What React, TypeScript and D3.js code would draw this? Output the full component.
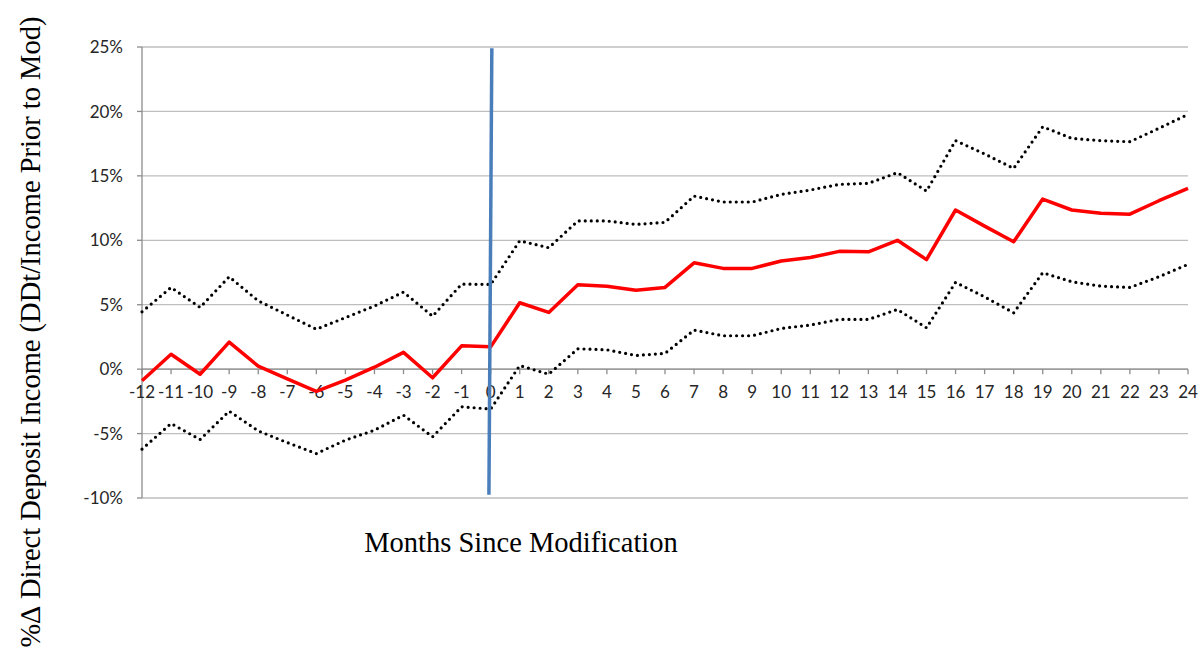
import React from "react";
import * as d3 from "d3";

const months: number[] = [-12,-11,-10,-9,-8,-7,-6,-5,-4,-3,-2,-1,0,1,2,3,4,5,6,7,8,9,10,11,12,13,14,15,16,17,18,19,20,21,22,23,24];
const meanPct: number[] = [-0.9,1.16,-0.4,2.1,0.23,-0.75,-1.73,-0.85,0.15,1.3,-0.67,1.81,1.73,5.15,4.4,6.55,6.44,6.13,6.34,8.25,7.82,7.82,8.39,8.67,9.14,9.11,10.0,8.5,12.35,11.1,9.88,13.2,12.35,12.1,12.03,13.07,14.03];
const upperPct: number[] = [4.45,6.34,4.79,7.17,5.3,4.2,3.1,4.0,4.9,5.98,4.11,6.6,6.57,9.96,9.42,11.5,11.5,11.23,11.39,13.43,12.97,12.97,13.56,13.9,14.34,14.42,15.25,13.82,17.73,16.7,15.58,18.81,17.91,17.73,17.65,18.69,19.77];
const lowerPct: number[] = [-6.21,-4.22,-5.46,-3.26,-4.79,-5.7,-6.55,-5.51,-4.74,-3.57,-5.25,-2.92,-3.1,0.28,-0.39,1.58,1.5,1.06,1.22,3.03,2.59,2.59,3.16,3.42,3.86,3.86,4.63,3.21,6.73,5.61,4.37,7.48,6.78,6.44,6.34,7.17,8.13];
const yTicks: number[] = [-10,-5,0,5,10,15,20,25];
const eventLineX: number[] = [0.04, -0.06];
const eventLineY: number[] = [24.9, -9.75];

const W = 1204;
const H = 658;
const left = 142;
const right = 1188;
const top = 47;
const bottom = 498;

export default function App() {
  const x = d3.scaleLinear().domain([-12, 24]).range([left, right]);
  const y = d3.scaleLinear().domain([-10, 25]).range([bottom, top]);

  const line = d3
    .line<number>()
    .x((_, i) => x(months[i]))
    .y((d) => y(d));

  const eventLine = d3
    .line<number>()
    .x((d) => x(d))
    .y((_, i) => y(eventLineY[i]));

  const labelFont = "Lato, 'Open Sans', sans-serif";

  return (
    <svg width={W} height={H} style={{ position: "absolute", left: 0, top: 0, background: "#fff" }}>
      {yTicks.map((t) => (
        <line key={"g" + t} x1={left} x2={right} y1={y(t)} y2={y(t)} stroke="#BEBEBE" strokeWidth={1.3} />
      ))}
      <line x1={left} x2={left} y1={top} y2={bottom} stroke="#8C8C8C" strokeWidth={1.3} />
      {yTicks.map((t) => (
        <line key={"yt" + t} x1={left - 5} x2={left} y1={y(t)} y2={y(t)} stroke="#8C8C8C" strokeWidth={1.3} />
      ))}
      {yTicks.map((t) => (
        <text
          key={"yl" + t}
          x={123}
          y={y(t)}
          dy="0.36em"
          textAnchor="end"
          fontFamily={labelFont}
          fontSize={17}
          fill="#262626"
        >
          {t + "%"}
        </text>
      ))}
      <line x1={left} x2={right} y1={y(0)} y2={y(0)} stroke="#8C8C8C" strokeWidth={1.3} />
      {months.map((m) => (
        <line key={"xt" + m} x1={x(m)} x2={x(m)} y1={y(0)} y2={y(0) + 5} stroke="#8C8C8C" strokeWidth={1.3} />
      ))}
      {months.map((m) => (
        <text
          key={"xl" + m}
          x={x(m)}
          y={y(0) + 29}
          textAnchor="middle"
          fontFamily={labelFont}
          fontSize={17}
          fill="#262626"
        >
          {String(m)}
        </text>
      ))}
      <path d={line(upperPct) || ""} fill="none" stroke="#000" strokeWidth={3.2} strokeDasharray="0 6" strokeLinecap="round" />
      <path d={line(lowerPct) || ""} fill="none" stroke="#000" strokeWidth={3.2} strokeDasharray="0 6" strokeLinecap="round" />
      <path d={line(meanPct) || ""} fill="none" stroke="#FF0000" strokeWidth={3.5} strokeLinejoin="round" />
      <path d={eventLine(eventLineX) || ""} fill="none" stroke="#4A7EBB" strokeWidth={3.5} />
      <text x={521} y={552} textAnchor="middle" fontFamily="'Liberation Serif', 'Times New Roman', serif" fontSize={28.5} fill="#000">
        Months Since Modification
      </text>
      <text
        transform={`translate(40, 332) rotate(-90)`}
        textAnchor="middle"
        fontFamily="'Liberation Serif', 'Times New Roman', serif"
        fontSize={28.5}
        fill="#000"
      >
        %∆ Direct Deposit Income (DDt/Income Prior to Mod)
      </text>
    </svg>
  );
}
